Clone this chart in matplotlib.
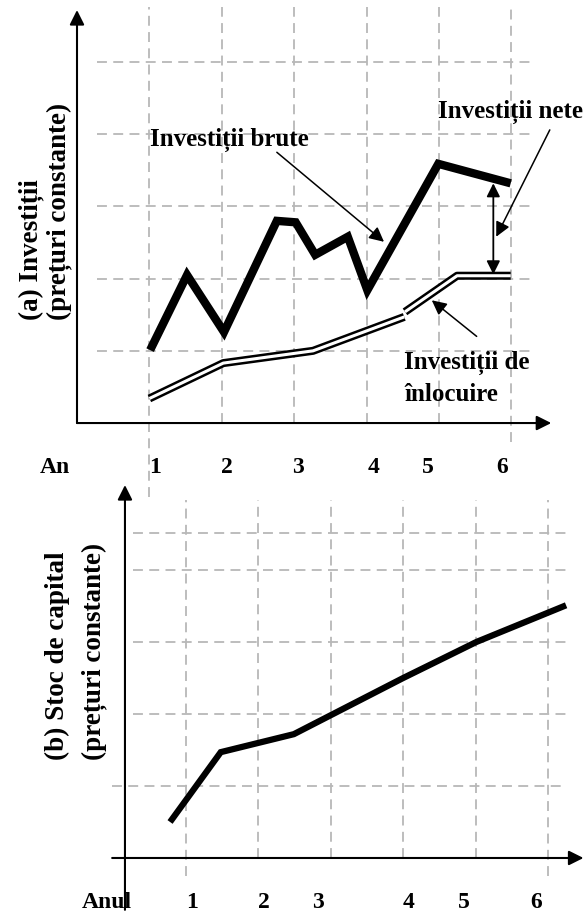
import matplotlib.pyplot as plt

plt.rcParams['font.family'] = ['Liberation Serif', 'DejaVu Serif']
plt.rcParams['font.weight'] = 'bold'

# (a) investment, grid units
brute_x = [1.01, 1.52, 2.03, 2.76, 3.02, 3.29, 3.74, 4.01, 4.99, 5.99]
brute_y = [1.01, 2.05, 1.26, 2.80, 2.78, 2.33, 2.58, 1.84, 3.59, 3.32]
inloc1_x = [1.00, 2.02, 3.26, 4.52]
inloc1_y = [0.34, 0.83, 1.00, 1.47]
inloc2_x = [4.53, 5.25, 5.99]
inloc2_y = [1.54, 2.04, 2.04]
an_pos = [1.08, 2.07, 3.05, 4.09, 4.85, 5.87]
an_labels = ['1', '2', '3', '4', '5', '6']

# (b) capital stock
stoc_x = [0.78, 1.48, 2.49, 4.00, 5.01, 6.25]
stoc_y = [0.50, 1.47, 1.72, 2.50, 3.00, 3.51]
anul_pos = [1.08, 2.08, 2.82, 4.08, 4.84, 5.83]
anul_labels = ['1', '2', '3', '4', '5', '6']

fig = plt.figure(figsize=(5.86, 9.14), dpi=100)
grid_kw = dict(color='#b8b8b8', lw=1.3, ls=(0, (5.5, 3.5)), zorder=1)
fs = 18       # annotation text
fs_tick = 17  # year labels
fs_lab = 19.5 # axis titles
axis_arrow = dict(arrowstyle='-|>', color='k', lw=1.5, mutation_scale=22, shrinkA=0, shrinkB=0)
note_arrow = dict(arrowstyle='-|>', color='k', lw=1.1, mutation_scale=22, shrinkA=0, shrinkB=0)

# ---------- top panel ----------
ax = fig.add_axes([0, 414 / 914, 1, 500 / 914])
ax.set_xlim(-1.0635, 7.030)
ax.set_ylim(-1.066, 5.859)
ax.axis('off')
ax.patch.set_alpha(0)

for i in range(1, 7):
    low = {1: -1.02, 6: -0.26}.get(i, 0)
    ax.plot([i, i], [low, 5.76], clip_on=False, **grid_kw)
for j in range(1, 6):
    ax.plot([0.28, 6.28], [j, j], **grid_kw)

ax.annotate('', xy=(0, 5.72), xytext=(0, 0), arrowprops=axis_arrow)
ax.annotate('', xy=(6.55, 0), xytext=(0, 0), arrowprops=axis_arrow)

ax.plot(brute_x, brute_y, color='k', lw=6, solid_capstyle='butt',
        solid_joinstyle='miter', zorder=3)
for xs, ys in [(inloc1_x, inloc1_y), (inloc2_x, inloc2_y)]:
    ax.plot(xs, ys, color='k', lw=5.8, solid_capstyle='butt', zorder=3)
    ax.plot(xs, ys, color='white', lw=2.2, solid_capstyle='butt', zorder=4)

ax.annotate('', xy=(5.75, 3.32), xytext=(5.75, 2.06),
            arrowprops=dict(arrowstyle='<|-|>', color='k', lw=1.3, mutation_scale=20,
                            shrinkA=0, shrinkB=0), zorder=5)

ax.text(1.01, 3.92, 'Investiții brute', fontsize=fs, ha='left', va='center')
ax.annotate('', xy=(4.24, 2.51), xytext=(2.76, 3.75), arrowprops=note_arrow)
ax.text(6.99, 4.31, 'Investiții nete', fontsize=fs, ha='right', va='center')
ax.annotate('', xy=(5.79, 2.58), xytext=(6.53, 4.06), arrowprops=note_arrow)
ax.text(4.52, 0.83, 'Investiții de', fontsize=fs, ha='left', va='center')
ax.text(4.52, 0.39, 'înlocuire', fontsize=fs, ha='left', va='center')
ax.annotate('', xy=(4.90, 1.70), xytext=(5.52, 1.20), arrowprops=note_arrow)

ax.text(-0.64, 1.43, '(a) Investiții', fontsize=fs_lab, rotation=90, ha='center', va='bottom')
ax.text(-0.25, 1.43, '(prețuri constante)', fontsize=fs_lab, rotation=90, ha='center', va='bottom')

ax.text(-0.30, -0.61, 'An', fontsize=fs_tick, ha='center', va='center')
for p, lab in zip(an_pos, an_labels):
    ax.text(p, -0.61, lab, fontsize=fs_tick, ha='center', va='center')

# ---------- bottom panel ----------
bx = fig.add_axes([0, 0, 1, 454 / 914])
bx.set_xlim(-1.569, 6.525)
bx.set_ylim(-0.778, 5.528)
bx.axis('off')
bx.patch.set_alpha(0)

for i in range(1, 7):
    low = -0.25 if i in (1, 6) else 0
    bx.plot([i, i], [low, 4.97], **grid_kw)
for j in [1, 2, 3, 4, 4.52]:
    start = -0.02 if j == 1 else 0.27
    bx.plot([start, 6.26], [j, j], **grid_kw)

bx.annotate('', xy=(0.157, 5.18), xytext=(0.157, -0.72), arrowprops=axis_arrow)
bx.annotate('', xy=(6.49, 0), xytext=(-0.02, 0), arrowprops=axis_arrow)

bx.plot(stoc_x, stoc_y, color='k', lw=4.5, solid_capstyle='butt',
        solid_joinstyle='miter', zorder=3)

bx.text(-0.77, 1.36, '(b) Stoc de capital', fontsize=fs_lab, rotation=90, ha='center', va='bottom')
bx.text(-0.27, 1.36, '(prețuri constante)', fontsize=fs_lab, rotation=90, ha='center', va='bottom')

bx.text(-0.09, -0.625, 'Anul', fontsize=fs_tick, ha='center', va='center')
for p, lab in zip(anul_pos, anul_labels):
    bx.text(p, -0.625, lab, fontsize=fs_tick, ha='center', va='center')

fig.savefig('out.png', dpi=100)
